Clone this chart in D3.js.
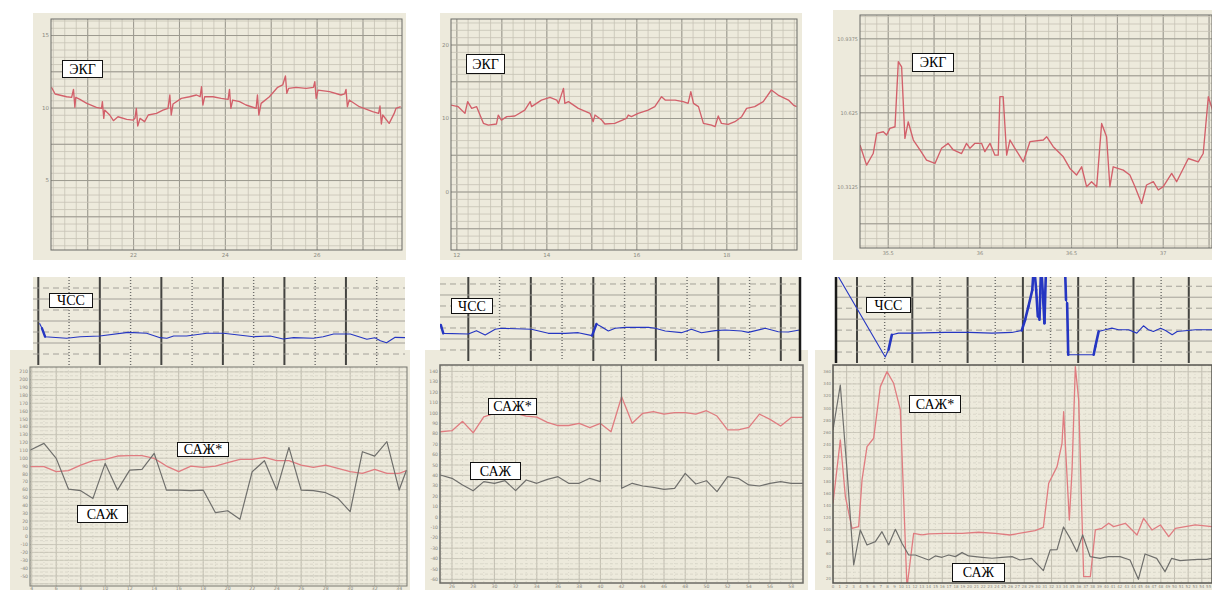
<!DOCTYPE html>
<html>
<head>
<meta charset="utf-8">
<script src="https://cdn.jsdelivr.net/npm/d3@7"></script>
<style>
body { margin: 0; background: #fff; }
svg { display: block; }
.tick-label { font-family: "DejaVu Sans", sans-serif; fill: #8a897f; }
.tag text { font-family: "Liberation Serif", "Times New Roman", serif; font-size: 14px; fill: #000; }
</style>
</head>
<body>
<script>
// ---- ECG traces, [time, value]
const ecgTrace1 = [[20.21,11.43],[20.29,10.97],[20.54,10.78],[20.65,10.74],[20.67,11.01],[20.69,11.29],[20.72,10.05],[20.74,10.74],[20.83,10.6],[20.98,10.32],[21.19,10.05],[21.3,9.98],[21.32,10.44],[21.35,9.29],[21.37,9.86],[21.48,9.52],[21.56,9.13],[21.66,9.4],[21.85,9.22],[21.99,9.17],[22.03,9.29],[22.06,9.98],[22.09,8.76],[22.14,9.29],[22.24,9.06],[22.32,9.52],[22.5,9.63],[22.64,9.86],[22.75,9.98],[22.79,10.9],[22.82,9.52],[22.86,10.28],[23.04,10.67],[23.22,10.78],[23.37,10.9],[23.45,10.78],[23.48,11.47],[23.51,10.21],[23.55,10.78],[23.73,10.78],[23.91,10.67],[24.06,10.6],[24.09,11.29],[24.12,9.98],[24.16,10.55],[24.31,10.44],[24.45,10.21],[24.67,9.98],[24.7,10.9],[24.73,9.52],[24.78,10.32],[24.96,10.78],[25.14,11.43],[25.25,11.59],[25.31,12.21],[25.34,11.01],[25.38,11.36],[25.54,11.43],[25.76,11.36],[25.92,11.43],[25.95,11.82],[25.98,10.67],[26.02,11.24],[26.27,11.13],[26.52,10.9],[26.6,10.97],[26.63,11.29],[26.66,10.09],[26.7,10.55],[26.92,10.09],[27.21,9.75],[27.34,9.63],[27.37,10.14],[27.4,8.9],[27.43,9.52],[27.57,8.94],[27.68,9.63],[27.72,9.98],[27.82,10.09]];
const ecgTrace2 = [[11.87,11.83],[12.03,11.61],[12.18,10.7],[12.24,12.29],[12.33,11.38],[12.44,11.61],[12.59,9.34],[12.7,9.11],[12.88,9.25],[12.92,10.47],[12.99,9.79],[13.11,10.25],[13.29,10.34],[13.51,11.15],[13.63,12.29],[13.66,11.61],[13.88,12.51],[14.07,12.88],[14.22,12.51],[14.26,12.06],[14.37,14.1],[14.4,12.06],[14.48,12.29],[14.7,11.38],[14.96,10.7],[15.03,9.57],[15.07,10.47],[15.22,9.79],[15.29,9.25],[15.51,9.34],[15.77,10.02],[15.81,10.47],[15.88,10.25],[16.03,10.7],[16.25,11.15],[16.4,11.61],[16.55,12.97],[16.63,12.51],[16.85,12.51],[17.03,12.29],[17.14,12.06],[17.2,13.65],[17.26,12.06],[17.37,11.61],[17.48,9.34],[17.66,9.11],[17.74,8.89],[17.81,10.34],[17.88,9.34],[18.03,9.2],[18.18,9.57],[18.33,10.25],[18.44,11.38],[18.62,11.61],[18.81,12.29],[18.99,13.88],[19.14,13.19],[19.37,12.51],[19.48,11.83],[19.55,11.61]];
const ecgTrace3 = [[35.346,10.489],[35.382,10.404],[35.418,10.453],[35.437,10.538],[35.473,10.545],[35.491,10.531],[35.509,10.559],[35.537,10.566],[35.555,10.841],[35.573,10.819],[35.591,10.517],[35.609,10.587],[35.637,10.51],[35.673,10.468],[35.709,10.425],[35.755,10.411],[35.791,10.475],[35.827,10.496],[35.855,10.468],[35.9,10.453],[35.927,10.496],[35.946,10.475],[35.973,10.496],[36.009,10.496],[36.027,10.461],[36.055,10.496],[36.082,10.446],[36.1,10.446],[36.109,10.693],[36.127,10.693],[36.146,10.446],[36.164,10.51],[36.191,10.475],[36.237,10.418],[36.273,10.503],[36.346,10.51],[36.364,10.524],[36.4,10.482],[36.455,10.439],[36.491,10.39],[36.527,10.362],[36.555,10.397],[36.582,10.313],[36.609,10.334],[36.637,10.313],[36.664,10.58],[36.691,10.524],[36.709,10.313],[36.727,10.397],[36.782,10.383],[36.818,10.362],[36.846,10.313],[36.882,10.242],[36.909,10.32],[36.946,10.334],[36.973,10.299],[37.0,10.313],[37.046,10.369],[37.073,10.334],[37.137,10.432],[37.191,10.418],[37.218,10.453],[37.246,10.693],[37.269,10.637]];
const ecgXTicks1 = [22, 24, 26];
const ecgYTicks1 = [5, 10, 15];
const ecgXTicks2 = [12, 14, 16, 18];
const ecgYTicks2 = [0, 10, 20];
const ecgXTicks3 = [35.5, 36, 36.5, 37];
const ecgYTicks3 = [10.3125, 10.625, 10.9375];

// ---- heart rate (ЧСС), [grid step, bpm]
const hrTrace1 = [[0.02,115.8],[0.06,106.7],[0.11,91.5],[0.46,88.5],[0.68,91.5],[1.0,92.7],[1.46,99.4],[1.76,97.6],[1.98,89.7],[2.09,88.5],[2.2,92.7],[2.41,92.7],[2.74,97.6],[3.01,97.6],[3.5,91.5],[3.77,92.7],[3.98,87.3],[4.15,89.7],[4.47,88.5],[4.63,91.5],[4.8,96.4],[5.07,96.4],[5.34,86.7],[5.47,89.7],[5.56,84.2],[5.66,80.6],[5.8,90.3],[5.96,89.7]];
const hrTrace2 = [[-0.44,105.5],[-0.4,90.3],[0,89.1],[0.13,95.2],[0.27,87.3],[0.43,97.6],[0.53,99.4],[1.01,97.6],[1.28,90.3],[1.55,90.3],[1.76,91.5],[1.98,86.1],[2.05,107.3],[2.13,102.4],[2.24,94.5],[2.35,99.4],[2.51,101.2],[2.88,101.2],[2.99,99.4],[3.15,94.5],[3.41,91.5],[3.57,97.6],[3.73,91.5],[3.95,95.2],[4.11,96.4],[4.37,94.5],[4.48,92.1],[4.75,99.4],[4.96,93.3],[5.12,92.7],[5.3,96.4]];
const hrTrace3 = [[-0.38,205],[0.51,50.9],[0.57,64.2],[0.63,91.5],[0.75,94.5],[1.0,94.5],[1.6,95.8],[2.02,95.8],[2.44,94.5],[2.8,95.8],[2.98,99.4],[3.04,118.8],[3.1,143],[3.17,173.3],[3.2,221],[3.24,173.3],[3.27,124.8],[3.3,118.8],[3.33,221],[3.36,167.3],[3.39,112.7],[3.42,221],[3.76,221],[3.78,155.2],[3.8,149.1],[3.82,55.2],[4.28,55.1],[4.31,70.2],[4.37,97.6],[4.49,100.6],[4.61,103.6],[4.73,100.6],[4.91,100.6],[5.06,94.5],[5.18,107.9],[5.27,100.6],[5.36,97.6],[5.49,103.6],[5.58,99.4],[5.7,91.5],[5.79,97.6],[6.12,100.6],[6.42,100.6]];

// ---- pressure (САЖ grey, САЖ* red)
const sazhX1 = [3.9,5,6,7,8,9,10,11,12,13,14,15,16,17,18,19,20,21,22,23,24,25,26,27,28,29,30,31,32,33,34,34.6];
const sazhGray1 = [110.4,118.9,99.8,60.7,58.6,48.8,93.4,59.4,84.9,85.8,106.2,59.4,59.4,58.6,59.4,30.6,33.1,22.1,82.8,96.8,59.4,113.8,59.4,58.6,56.1,48.8,31.9,108.3,102.7,121.0,59.4,84.9];
const sazhRed1 = [89.2,89.2,82.8,84.1,91.3,96.8,98.5,102.8,103.2,103.2,99.8,90.0,82.8,90.0,88.3,90.0,94.3,98.5,98.5,101.1,96.8,96.8,91.3,88.3,91.3,87.0,82.8,80.7,85.8,80.7,80.7,84.1];
const sazhGray2 = [[24.9,40.4],[26,37.2],[27,30.8],[28,25.3],[29,34.0],[30,32.4],[31,34.9],[32,25.3],[33,35.6],[34,32.4],[35,36.2],[36,38.8],[37,32.4],[38,32.4],[39,37.2],[40,34.0],[40.1,400],[41.95,400],[42,27.6],[43,32.4],[44,29.8],[45,28.5],[46,26.6],[47,27.6],[48,42.0],[49,31.7],[50,34.9],[51,24.4],[52,38.8],[53,37.2],[54,30.8],[55,29.8],[56,32.4],[57,34.0],[58,32.4],[59.1,32.4]];
const sazhRed2 = [[24.9,82],[26,83],[27,92],[28,81],[29,96.4],[30,99.7],[31,99.7],[32,99.7],[33,97],[34,96],[35,91],[36,88],[37,88],[38,90],[39,86],[40,90],[41,82],[42,115.7],[43,90.1],[44,99.7],[45,101.3],[46,99.0],[47,100.3],[48,100.3],[49,99.0],[50,102.2],[51,97.1],[52,83.7],[53,83.7],[54,86.2],[55,99.0],[56,93.9],[57,87.5],[58,95.8],[59.1,95.8]];
const sazhGray3 = [[0,264.2],[1.07,338.2],[2.05,198.3],[3.03,42.0],[4.0,99.6],[4.98,74.9],[6.2,80.4],[7.17,96.8],[8.15,74.9],[9.13,100.7],[10.1,77.6],[11.08,58.4],[12.05,58.4],[14.01,50.2],[14.98,56.8],[15.96,54.6],[16.93,58.4],[17.91,55.7],[18.89,62.3],[19.86,56.8],[21.81,54.6],[23.28,53.0],[24.74,54.6],[26.21,55.7],[27.38,50.2],[29.09,52.9],[30.8,32.6],[31.8,66.7],[32.8,67.2],[33.75,104.5],[34.72,85.8],[35.7,63.9],[36.55,91.4],[37.65,55.7],[39.1,52.9],[40.32,55.7],[42.03,55.7],[43.49,50.2],[44.71,18.4],[45.69,60.1],[47.39,52.9],[48.61,31.0],[49.59,52.9],[50.81,49.1],[52.27,50.2],[53.49,51.3],[54.71,51.3],[55.45,52.9]];
const sazhRed3 = [[0,143.5],[1.07,247.7],[1.81,154.5],[2.78,102.3],[3.76,105.1],[4.25,181.9],[4.98,236.7],[5.95,250.5],[6.93,335.5],[7.91,360.2],[8.88,341.0],[9.86,297.1],[10.83,5],[11.81,94.1],[13.03,91.4],[14.01,93.0],[16.45,94.1],[18.89,94.1],[21.33,95.8],[23.77,94.1],[25.92,91.3],[27.87,95.2],[29.58,98.5],[30.8,104.0],[31.58,176.4],[32.8,203.8],[33.53,242.2],[33.77,294.3],[34.6,116.0],[35.0,198.3],[35.48,368.4],[35.97,313.5],[36.7,22.8],[37.68,22.8],[38.41,99.6],[39.38,102.3],[40.36,110.6],[41.09,105.1],[42.8,110.6],[44.51,91.4],[45.48,118.8],[46.7,99.6],[47.93,107.8],[49.15,88.6],[50.12,102.3],[53.05,107.8],[55.49,105.1]];
const sazhXTicks1 = d3.range(4, 35, 2);
const sazhYTicks1 = d3.range(-50, 211, 10);
const sazhXTicks2 = d3.range(26, 59, 2);
const sazhYTicks2 = d3.range(-60, 141, 10);
const sazhXTicks3 = d3.range(0, 56, 1);
const sazhYTicks3 = d3.range(20, 361, 20);

const BG = "#edeadc";
const ECG_RED = "#d2606a";
const RED = "#e07c80";
const GRAY = "#6f6f6c";
const BLUE = "#2536c2";

const svg = d3.select("body").append("svg").attr("width", 1212).attr("height", 590);

function gridValues(domain, step) {
  var lo = Math.min(domain[0], domain[1]), hi = Math.max(domain[0], domain[1]);
  return d3.range(Math.ceil(lo / step - 1e-6) * step, hi + 1e-9, step);
}

function drawPanel(p) {
  var x = d3.scaleLinear().domain(p.xDomain).range([p.box[0], p.box[2]]);
  var y = d3.scaleLinear().domain(p.yDomain).range([p.box[3], p.box[1]]);
  var g = svg.append("g");

  if (p.bg) {
    g.append("rect").attr("x", p.bg[0]).attr("y", p.bg[1])
      .attr("width", p.bg[2]).attr("height", p.bg[3]).attr("fill", BG);
  }

  var clipId = "clip-" + p.id;
  g.append("clipPath").attr("id", clipId).append("rect")
    .attr("x", p.box[0]).attr("y", p.box[1])
    .attr("width", p.box[2] - p.box[0]).attr("height", p.box[3] - p.box[1]);
  var plot = g.append("g").attr("clip-path", "url(#" + clipId + ")");

  // grid lines
  (p.grid || []).forEach(function (gr) {
    var vals = gr.values || gridValues(gr.axis === "x" ? p.xDomain : p.yDomain, gr.step);
    var sel = plot.append("g").selectAll("line").data(vals).enter().append("line")
      .attr("stroke", gr.color).attr("stroke-width", gr.width)
      .attr("stroke-dasharray", gr.dash || null);
    if (gr.axis === "x") {
      sel.attr("x1", function (d) { return x(d); }).attr("x2", function (d) { return x(d); })
        .attr("y1", p.box[1]).attr("y2", p.box[3]);
    } else {
      sel.attr("y1", function (d) { return y(d); }).attr("y2", function (d) { return y(d); })
        .attr("x1", p.box[0]).attr("x2", p.box[2]);
    }
  });

  // series
  var line = d3.line().x(function (d) { return x(d[0]); }).y(function (d) { return y(d[1]); });
  p.series.forEach(function (s) {
    plot.append("path").datum(s.data).attr("d", line)
      .attr("fill", "none").attr("stroke", s.color).attr("stroke-width", s.width)
      .attr("stroke-linejoin", "round");
    if (s.steepWidth) {
      var steep = d3.pairs(s.data).filter(function (pr) {
        var dx = Math.abs(x(pr[1][0]) - x(pr[0][0]));
        var dy = Math.abs(y(pr[1][1]) - y(pr[0][1]));
        return dy > 2.5 * dx && dy > 6;
      });
      plot.append("g").selectAll("line").data(steep).enter().append("line")
        .attr("x1", function (d) { return x(d[0][0]); }).attr("y1", function (d) { return y(d[0][1]); })
        .attr("x2", function (d) { return x(d[1][0]); }).attr("y2", function (d) { return y(d[1][1]); })
        .attr("stroke", s.color).attr("stroke-width", s.steepWidth).attr("stroke-linecap", "round");
    }
  });

  if (p.frame) {
    g.append("rect").attr("x", p.box[0]).attr("y", p.box[1])
      .attr("width", p.box[2] - p.box[0]).attr("height", p.box[3] - p.box[1])
      .attr("fill", "none").attr("stroke", p.frame).attr("stroke-width", p.frameWidth || 1);
  }
  (p.edges || []).forEach(function (e) {
    var px = e.side === "left" ? p.box[0] : p.box[2];
    g.append("line").attr("x1", px).attr("x2", px).attr("y1", p.box[1]).attr("y2", p.box[3])
      .attr("stroke", "#1a1a1a").attr("stroke-width", e.width);
  });

  // tick labels
  var fmt = p.fmt || function (d) { return String(d); };
  if (p.xTicks) {
    g.append("g").selectAll("text").data(p.xTicks).enter().append("text")
      .attr("class", "tick-label").attr("text-anchor", "middle")
      .attr("x", function (d) { return x(d); }).attr("y", p.box[3] + p.xLabelDy)
      .style("font-size", p.fontSize + "px").text(fmt);
  }
  if (p.yTicks) {
    g.append("g").selectAll("text").data(p.yTicks).enter().append("text")
      .attr("class", "tick-label").attr("text-anchor", "end")
      .attr("x", p.box[0] - 2).attr("y", function (d) { return y(d) + p.fontSize * 0.35; })
      .style("font-size", p.fontSize + "px").text(fmt);
  }
}

function drawTag(t) {
  var g = svg.append("g").attr("class", "tag");
  g.append("rect").attr("x", t.x + 0.5).attr("y", t.y + 0.5).attr("width", t.w).attr("height", t.h)
    .attr("fill", "#fff").attr("stroke", "#111").attr("stroke-width", 1);
  g.append("text").attr("x", t.x + t.w / 2 + 0.5).attr("y", t.y + t.h / 2 + 5)
    .attr("text-anchor", "middle").text(t.text);
}

var gMajor = "#9c9a90", gMinor = "#c6c3b5";

// ---------- ECG panels
drawPanel({
  id: "ecg1", bg: [33, 13, 373, 247], box: [51, 19, 402, 250],
  xDomain: [20.2, 27.85], yDomain: [0.21, 16.14],
  grid: [
    { axis: "x", step: 0.25, color: gMinor, width: 0.8 },
    { axis: "x", step: 1, color: gMajor, width: 1 },
    { axis: "y", step: 0.5, color: gMinor, width: 0.8 },
    { axis: "y", step: 2.5, color: gMajor, width: 1 }
  ],
  series: [{ data: ecgTrace1, color: ECG_RED, width: 1.35 }],
  frame: "#6a6a66", xTicks: ecgXTicks1, yTicks: ecgYTicks1, fontSize: 5.5, xLabelDy: 7
});
drawPanel({
  id: "ecg2", bg: [440, 13, 362, 247], box: [451, 19, 797, 250],
  xDomain: [11.87, 19.56], yDomain: [-7.89, 23.54],
  grid: [
    { axis: "x", step: 0.25, color: gMinor, width: 0.8 },
    { axis: "x", step: 1, color: gMajor, width: 1 },
    { axis: "y", step: 1, color: gMinor, width: 0.8 },
    { axis: "y", step: 5, color: gMajor, width: 1 }
  ],
  series: [{ data: ecgTrace2, color: ECG_RED, width: 1.35 }],
  frame: "#6a6a66", xTicks: ecgXTicks2, yTicks: ecgYTicks2, fontSize: 5.5, xLabelDy: 7
});
drawPanel({
  id: "ecg3", bg: [833, 10, 379, 250], box: [860, 15, 1212, 248],
  xDomain: [35.346, 37.266], yDomain: [10.054, 11.038],
  grid: [
    { axis: "x", step: 0.0625, color: gMinor, width: 0.8 },
    { axis: "x", step: 0.25, color: gMajor, width: 1 },
    { axis: "y", step: 0.03125, color: gMinor, width: 0.8 },
    { axis: "y", step: 0.15625, color: gMajor, width: 1 }
  ],
  series: [{ data: ecgTrace3, color: ECG_RED, width: 1.35 }],
  frame: "#6a6a66", xTicks: ecgXTicks3, yTicks: ecgYTicks3, fontSize: 5, xLabelDy: 7
});

// ---------- pressure panels (drawn before the heart-rate strips that overlap them)
drawPanel({
  id: "sazh1", bg: [10, 350, 400, 240], box: [30, 367, 407, 586],
  xDomain: [3.86, 34.64], yDomain: [-62.8, 216.2],
  grid: [
    { axis: "x", step: 1, color: "#d6d3c6", width: 0.8, dash: "1,2" },
    { axis: "x", step: 2, color: "#bdbaad", width: 0.9 },
    { axis: "y", step: 5, color: "#d3d0c3", width: 0.7, dash: "3,2" },
    { axis: "y", step: 10, color: "#c4c1b4", width: 0.8 }
  ],
  series: [
    { data: d3.zip(sazhX1, sazhRed1), color: RED, width: 1.3 },
    { data: d3.zip(sazhX1, sazhGray1), color: GRAY, width: 1.2 }
  ],
  frame: "#77766f", xTicks: sazhXTicks1, yTicks: sazhYTicks1, fontSize: 4.6, xLabelDy: 3.5
});
drawPanel({
  id: "sazh2", bg: [425, 350, 383, 240], box: [440, 365, 803, 583],
  xDomain: [24.87, 59.11], yDomain: [-63.5, 146.2],
  grid: [
    { axis: "x", step: 1, color: "#d6d3c6", width: 0.8, dash: "1,2" },
    { axis: "x", step: 2, color: "#bdbaad", width: 0.9 },
    { axis: "y", step: 5, color: "#d3d0c3", width: 0.7, dash: "3,2" },
    { axis: "y", step: 10, color: "#c4c1b4", width: 0.8 }
  ],
  series: [
    { data: sazhRed2, color: RED, width: 1.3 },
    { data: sazhGray2, color: GRAY, width: 1.2 }
  ],
  frame: "#6b6a64", frameWidth: 1.5, xTicks: sazhXTicks2, yTicks: sazhYTicks2, fontSize: 4.6, xLabelDy: 5
});
drawPanel({
  id: "sazh3", bg: [815, 350, 397, 240], box: [833, 365, 1212, 583],
  xDomain: [0, 55.49], yDomain: [12.3, 371.1],
  grid: [
    { axis: "x", step: 1, color: "#d6d3c6", width: 0.7, dash: "1,2" },
    { axis: "x", step: 2, color: "#bdbaad", width: 0.9 },
    { axis: "y", step: 10, color: "#d3d0c3", width: 0.7, dash: "3,2" },
    { axis: "y", step: 20, color: "#c4c1b4", width: 0.8 }
  ],
  series: [
    { data: sazhRed3, color: RED, width: 1.3 },
    { data: sazhGray3, color: GRAY, width: 1.2 }
  ],
  frame: "#55544f", frameWidth: 1.5, xTicks: sazhXTicks3, yTicks: sazhYTicks3, fontSize: 4, xLabelDy: 5
});

// ---------- heart-rate strips
function hrGrid() {
  return [
    { axis: "x", values: d3.range(-0.5, 7, 1), color: "#6d6d6a", width: 1.4, dash: "1,2" },
    { axis: "x", values: d3.range(0, 7, 1), color: "#444441", width: 2 },
    { axis: "y", values: d3.range(60, 200, 40), color: "#9c9a92", width: 0.9, dash: "6,4" },
    { axis: "y", values: d3.range(80, 200, 40), color: "#9c9a92", width: 0.9 }
  ];
}
drawPanel({
  id: "hr1", bg: [33, 277, 372, 88], box: [33, 277, 405, 365],
  xDomain: [-0.086, 5.96], yDomain: [40, 200], grid: hrGrid(),
  series: [{ data: hrTrace1, color: BLUE, width: 1.1, steepWidth: 2.4 }]
});
drawPanel({
  id: "hr2", bg: [440, 277, 360, 84], box: [440, 277, 800, 361],
  xDomain: [-0.453, 5.307], yDomain: [40, 192.7], grid: hrGrid(),
  series: [{ data: hrTrace2, color: BLUE, width: 1.1, steepWidth: 2.4 }],
  edges: [{ side: "right", width: 2.5 }]
});
drawPanel({
  id: "hr3", bg: [836, 277, 376, 86], box: [836, 277, 1212, 363],
  xDomain: [-0.38, 6.42], yDomain: [40, 196.9], grid: hrGrid(),
  series: [{ data: hrTrace3, color: BLUE, width: 1.1, steepWidth: 2.6 }],
  edges: [{ side: "left", width: 2.5 }]
});

// ---------- labels
[
  { text: "ЭКГ", x: 62, y: 60, w: 40, h: 17 },
  { text: "ЭКГ", x: 466, y: 54, w: 38, h: 19 },
  { text: "ЭКГ", x: 912, y: 53, w: 41, h: 18 },
  { text: "ЧСС", x: 49, y: 293, w: 43, h: 14 },
  { text: "ЧСС", x: 451, y: 298, w: 41, h: 15 },
  { text: "ЧСС", x: 866, y: 297, w: 44, h: 15 },
  { text: "САЖ*", x: 177, y: 442, w: 51, h: 14 },
  { text: "САЖ*", x: 488, y: 398, w: 48, h: 16 },
  { text: "САЖ*", x: 909, y: 395, w: 51, h: 17 },
  { text: "САЖ", x: 77, y: 505, w: 50, h: 17 },
  { text: "САЖ", x: 470, y: 462, w: 50, h: 17 },
  { text: "САЖ", x: 952, y: 563, w: 52, h: 18 }
].forEach(drawTag);
</script>
</body>
</html>
